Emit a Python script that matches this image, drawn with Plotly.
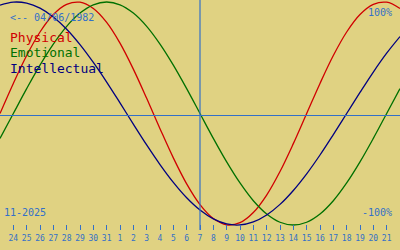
import pandas as pd
import plotly.graph_objects as go

# ---- data ----
dates = pd.date_range("2025-10-23", periods=31, freq="D")
physical = [0.0, 0.27, 0.52, 0.731, 0.888, 0.979, 0.998, 0.942, 0.817, 0.631, 0.398,
            0.136, -0.136, -0.398, -0.631, -0.817, -0.942, -0.998, -0.979, -0.888,
            -0.731, -0.52, -0.27, 0.0, 0.27, 0.52, 0.731, 0.888, 0.979, 0.998, 0.942]
emotional = [-0.223, 0.0, 0.223, 0.434, 0.623, 0.782, 0.901, 0.975, 1.0, 0.975, 0.901,
             0.782, 0.623, 0.434, 0.223, 0.0, -0.223, -0.434, -0.623, -0.782, -0.901,
             -0.975, -1.0, -0.975, -0.901, -0.782, -0.623, -0.434, -0.223, 0.0, 0.223]
intellectual = [0.972, 0.999, 0.99, 0.945, 0.866, 0.756, 0.618, 0.458, 0.282, 0.095,
                -0.095, -0.282, -0.458, -0.618, -0.756, -0.866, -0.945, -0.99, -0.999,
                -0.972, -0.91, -0.815, -0.69, -0.541, -0.372, -0.189, 0.0, 0.189, 0.372,
                0.541, 0.69]
tick_dates = [d.strftime("%Y-%m-%d") for d in dates[1:-1]]
tick_labels = ["24", "25", "26", "27", "28", "29", "30", "31", "1", "2", "3", "4", "5",
               "6", "7", "8", "9", "10", "11", "12", "13", "14", "15", "16", "17", "18",
               "19", "20", "21"]
today = "2025-11-07"
birth_label = "<-- 04/06/1982"
month_label = "11-2025"

BG = "#e0d282"
AX = "#3370c8"
MONO = "DejaVu Sans Mono"

fig = go.Figure()
for name, vals, col in [("Physical", physical, "#d00000"),
                        ("Emotional", emotional, "#007000"),
                        ("Intellectual", intellectual, "#000080")]:
    fig.add_trace(go.Scatter(x=dates, y=vals, mode="lines", name=name,
                             line=dict(color=col, width=1.3, shape="spline"),
                             hoverinfo="skip"))

fig.add_shape(type="line", xref="paper", yref="paper", x0=0, x1=1, y0=0.538, y1=0.538,
              line=dict(color=AX, width=1.2))
fig.add_shape(type="line", xref="x", yref="paper", x0=today, x1=today, y0=0.08, y1=1,
              line=dict(color=AX, width=1.2))

def ann(text, x, y, size, color, xanchor="left"):
    fig.add_annotation(text=text, xref="paper", yref="paper", x=x / 400, y=1 - y / 250,
                       xanchor=xanchor, yanchor="middle", showarrow=False,
                       font=dict(family=MONO, size=size, color=color))

ann(birth_label, 8, 17, 10, AX)
ann("Physical", 8, 37.5, 13, "#d00000")
ann("Emotional", 8, 53, 13, "#007000")
ann("Intellectual", 8, 68, 13, "#000080")
ann("100%", 394, 12, 10, AX, "right")
ann("-100%", 394, 212, 10, AX, "right")
ann(month_label, 2, 212, 10, AX)

fig.update_layout(
    width=400, height=250, margin=dict(l=0, r=0, t=0, b=0),
    paper_bgcolor=BG, plot_bgcolor=BG, showlegend=False,
    xaxis=dict(type="date", range=["2025-10-23", "2025-11-22"], showgrid=False,
               zeroline=False, showline=False, anchor="free", position=0.08,
               ticks="inside", ticklen=5, tickwidth=1, tickcolor=AX,
               ticklabelstandoff=2,
               tickvals=tick_dates, ticktext=tick_labels,
               tickfont=dict(family=MONO, size=8, color=AX), fixedrange=True),
    yaxis=dict(range=[-1.224, 1.018], visible=False, fixedrange=True),
)

fig.write_html("out.html")
